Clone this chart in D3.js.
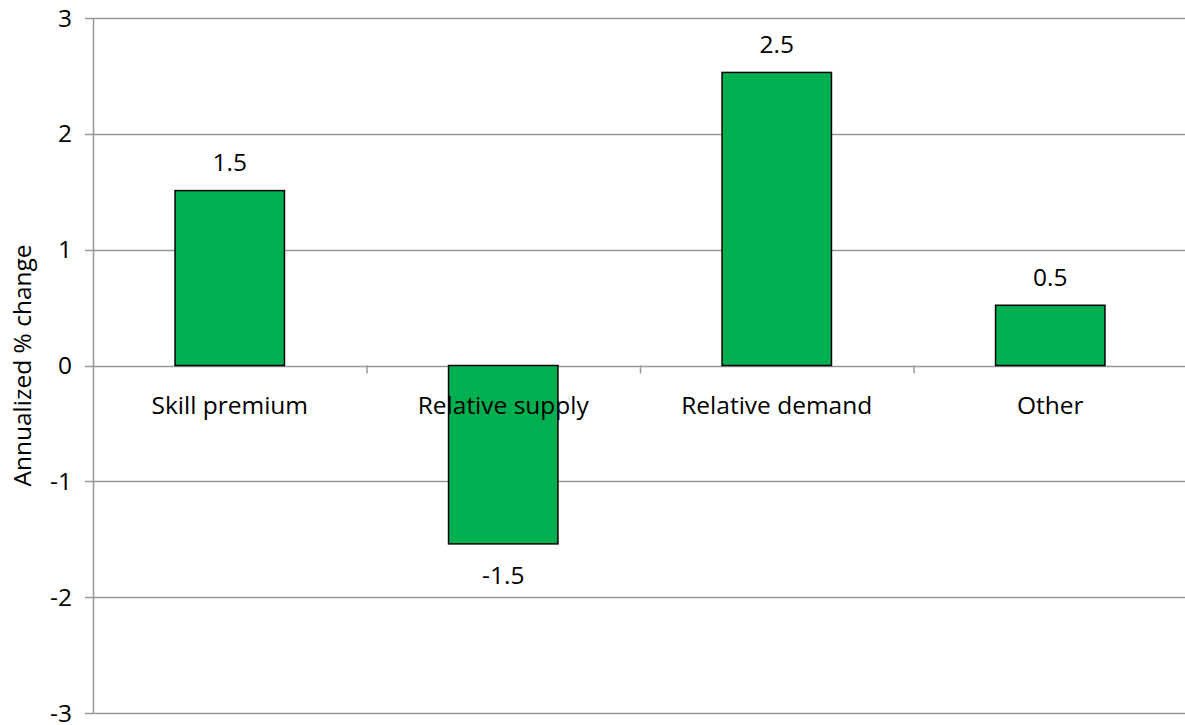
<!DOCTYPE html>
<html>
<head>
<meta charset="utf-8">
<script src="https://cdn.jsdelivr.net/npm/d3@7"></script>
<style>
  html, body { margin: 0; padding: 0; background: #fff; }
  svg text { font-family: "Open Sans", Lato, sans-serif; fill: #000; }
</style>
</head>
<body>
<svg id="chart" width="1185" height="725"></svg>
<script>
// Decomposition of the skill premium (annualized % change)
const categories = ["Skill premium", "Relative supply", "Relative demand", "Other"];
const values = [1.51, -1.54, 2.53, 0.52];
const yTicks = [-3, -2, -1, 0, 1, 2, 3];
const yTitle = "Annualized % change";

const svg = d3.select("#chart");
const margin = { left: 93, right: -2, top: 18, bottom: 12 };
const W = 1185, H = 725;
const fontSize = 24.5;

const x = d3.scaleBand()
  .domain(categories)
  .range([margin.left, W - margin.right])
  .paddingInner(0)
  .paddingOuter(0);

const y = d3.scaleLinear()
  .domain([-3, 3])
  .range([H - margin.bottom, margin.top]);

const gridColor = "#999999";

// horizontal gridlines
svg.append("g")
  .selectAll("line")
  .data(yTicks)
  .join("line")
  .attr("x1", margin.left - 8)
  .attr("x2", W)
  .attr("y1", d => Math.round(y(d)) + 0.5)
  .attr("y2", d => Math.round(y(d)) + 0.5)
  .attr("stroke", gridColor)
  .attr("stroke-width", 1.5);

// vertical axis line
svg.append("line")
  .attr("x1", margin.left + 0.5).attr("x2", margin.left + 0.5)
  .attr("y1", y(3)).attr("y2", y(-3))
  .attr("stroke", gridColor).attr("stroke-width", 1.5);

// y tick labels
svg.append("g")
  .selectAll("text")
  .data(yTicks)
  .join("text")
  .attr("x", margin.left - 21)
  .attr("y", d => y(d))
  .attr("dy", "0.35em")
  .attr("text-anchor", "end")
  .attr("font-size", fontSize)
  .text(d => d);

// y axis title
svg.append("text")
  .attr("transform", `translate(22,${y(0)}) rotate(-90)`)
  .attr("dy", "0.35em")
  .attr("text-anchor", "middle")
  .attr("font-size", fontSize)
  .text(yTitle);

// bars
const barW = x.bandwidth() * 0.4;
svg.append("g")
  .selectAll("rect")
  .data(values)
  .join("rect")
  .attr("x", (d, i) => x(categories[i]) + (x.bandwidth() - barW) / 2)
  .attr("y", d => y(Math.max(0, d)))
  .attr("width", barW)
  .attr("height", d => Math.abs(y(d) - y(0)))
  .attr("fill", "#00B050")
  .attr("stroke", "#000")
  .attr("stroke-width", 1.5);

// category tick marks on the zero line
svg.append("g")
  .selectAll("line")
  .data(categories.slice(1))
  .join("line")
  .attr("x1", d => x(d) + 0.5)
  .attr("x2", d => x(d) + 0.5)
  .attr("y1", y(0))
  .attr("y2", y(0) + 8)
  .attr("stroke", gridColor)
  .attr("stroke-width", 1.5);

// category labels below the zero line
svg.append("g")
  .selectAll("text")
  .data(categories)
  .join("text")
  .attr("x", d => x(d) + x.bandwidth() / 2)
  .attr("y", y(0) + 40)
  .attr("dy", "0.35em")
  .attr("text-anchor", "middle")
  .attr("font-size", fontSize)
  .text(d => d);

// value labels
const fmt = v => d3.format(".1f")(v).replace("\u2212", "-");
svg.append("g")
  .selectAll("text")
  .data(values)
  .join("text")
  .attr("x", (d, i) => x(categories[i]) + x.bandwidth() / 2)
  .attr("y", d => d >= 0 ? y(d) - 28 : y(d) + 32)
  .attr("dy", "0.35em")
  .attr("text-anchor", "middle")
  .attr("font-size", fontSize)
  .text(d => fmt(d));
</script>
</body>
</html>
